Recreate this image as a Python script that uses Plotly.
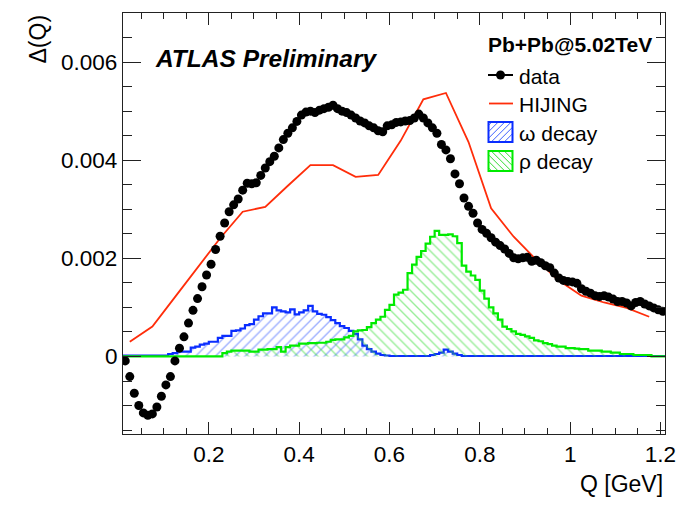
import numpy as np
import plotly.graph_objects as go

# ---- data ----
# data points: bin centres start at 0.015 GeV, step 0.01 GeV
data_q_start = 0.015
data_q_step = 0.01
data_vals = [
    -0.00009, -0.00041, -0.00075, -0.00100, -0.00115, -0.00120, -0.00117, -0.00103, -0.00081, -0.00058,
    -0.00041, -0.00009, 0.00017, 0.00040, 0.00068, 0.00094, 0.00118, 0.00142, 0.00166, 0.00188,
    0.00218, 0.00245, 0.00272, 0.00295, 0.00309, 0.00321, 0.00339, 0.00353, 0.00352, 0.00354,
    0.00369, 0.00384, 0.00397, 0.00408, 0.00425, 0.00442, 0.00455, 0.00466, 0.00479, 0.00492,
    0.00498, 0.00500, 0.00497, 0.00502, 0.00505, 0.00508, 0.00512, 0.00505, 0.00500, 0.00497,
    0.00492, 0.00486, 0.00480, 0.00476, 0.00470, 0.00466, 0.00460, 0.00458, 0.00470, 0.00472,
    0.00477, 0.00478, 0.00480, 0.00481, 0.00486, 0.00494, 0.00486, 0.00476, 0.00466, 0.00455,
    0.00432, 0.00421, 0.00403, 0.00372, 0.00352, 0.00323, 0.00306, 0.00292, 0.00272, 0.00259,
    0.00251, 0.00242, 0.00233, 0.00226, 0.00219, 0.00210, 0.00201, 0.00199, 0.00201, 0.00202,
    0.00194, 0.00196, 0.00191, 0.00185, 0.00181, 0.00170, 0.00160, 0.00155, 0.00153, 0.00152,
    0.00149, 0.00138, 0.00133, 0.00129, 0.00124, 0.00122, 0.00124, 0.00121, 0.00117, 0.00112,
    0.00112, 0.00109, 0.00103, 0.00110, 0.00112, 0.00107, 0.00103, 0.00099, 0.00095, 0.00092,
]

# HIJING curve nodes
hijing_q = [0.025, 0.075, 0.125, 0.175, 0.225, 0.275, 0.325, 0.375, 0.425, 0.475, 0.525, 0.575,
            0.625, 0.675, 0.725, 0.775, 0.825, 0.875, 0.925, 0.975, 1.025, 1.075, 1.125, 1.175]
hijing_vals = [0.00030, 0.00061, 0.00121, 0.00181, 0.00241, 0.00295, 0.00305, 0.00348, 0.00390, 0.00390,
               0.00366, 0.00370, 0.00440, 0.00524, 0.00537, 0.00437, 0.00302, 0.00244, 0.00197, 0.00155,
               0.00124, 0.00110, 0.00099, 0.00081]

# decay histograms: bins of 0.01 GeV starting at 0.01 GeV
hist_lo = 0.01
hist_width = 0.01
omega_vals = [
    0.00002, 0.00002, 0.00002, 0.00002, 0.00002, 0.00002, 0.00002, 0.00002, 0.00002, 0.00002,
    0.00005, 0.00007, 0.00010, 0.00010, 0.00010, 0.00018, 0.00020, 0.00024, 0.00026, 0.00030,
    0.00030, 0.00038, 0.00042, 0.00042, 0.00052, 0.00053, 0.00057, 0.00064, 0.00066, 0.00075,
    0.00082, 0.00088, 0.00088, 0.00100, 0.00094, 0.00092, 0.00090, 0.00096, 0.00086, 0.00090,
    0.00094, 0.00103, 0.00092, 0.00087, 0.00085, 0.00080, 0.00074, 0.00068, 0.00062, 0.00058,
    0.00052, 0.00046, 0.00035, 0.00022, 0.00015, 0.00010, 0.00006, 0.00003, 0.00002, 0.00001,
    0.00001, 0.00001, 0.00001, 0.00001, 0.00001, 0.00001, 0.00001, 0.00001, 0.00003, 0.00005,
    0.00008, 0.00014, 0.00010, 0.00006, 0.00003, 0.00001, 0.00001, 0.00001, 0.00001, 0.00001,
    0.00001, 0.00001, 0.00001, 0.00001, 0.00001, 0.00001, 0.00001, 0.00001, 0.00001, 0.00001,
    0.00001, 0.00001, 0.00001, 0.00001, 0.00001, 0.00001, 0.00001, 0.00001, 0.00001, 0.00001,
    0.00001, 0.00001, 0.00001, 0.00001, 0.00001, 0.00001, 0.00001, 0.00001, 0.00001, 0.00001,
    0.00001, 0.00001, 0.00001, 0.00001, 0.00001, 0.00001, 0.00001, 0.00001, 0.00001, 0.00001,
]
rho_vals = [
    0, 0, 0, 0, 0, 0, 0, 0, 0, 0,
    0, 0, 0, 0, 0, 0, 0, 0, 0, 0,
    0, 0, 0.00007, 0.00010, 0.00012, 0.00012, 0.00012, 0.00012, 0.00010, 0.00010,
    0.00014, 0.00014, 0.00015, 0.00015, 0.00019, 0.00010, 0.00019, 0.00022, 0.00022, 0.00026,
    0.00026, 0.00027, 0.00027, 0.00028, 0.00028, 0.00030, 0.00034, 0.00035, 0.00035, 0.00039,
    0.00042, 0.00051, 0.00053, 0.00054, 0.00060, 0.00068, 0.00075, 0.00081, 0.00095, 0.00105,
    0.00126, 0.00130, 0.00136, 0.00170, 0.00187, 0.00203, 0.00215, 0.00230, 0.00244, 0.00256,
    0.00248, 0.00248, 0.00249, 0.00245, 0.00231, 0.00185, 0.00173, 0.00165, 0.00156, 0.00134,
    0.00118, 0.00100, 0.00088, 0.00075, 0.00061, 0.00056, 0.00051, 0.00046, 0.00044, 0.00041,
    0.00038, 0.00033, 0.00031, 0.00027, 0.00025, 0.00022, 0.00020, 0.00020, 0.00017, 0.00017,
    0.00016, 0.00015, 0.00015, 0.00012, 0.00012, 0.00012, 0.00010, 0.00010, 0.00008, 0.00008,
    0.00005, 0.00005, 0.00005, 0.00003, 0.00003, 0.00003, 0.00003, 0, 0, 0,
]

legend_header = "Pb+Pb@5.02TeV"
legend_labels = ["data", "HIJING", "\u03c9 decay", "\u03c1 decay"]

# ---- layout constants ----
W, H = 695, 508
ML, MR, MT, MB = 123, 30, 13, 74
PW, PH = W - ML - MR, H - MT - MB

FONT = "Liberation Sans, Arial, Helvetica, sans-serif"
BLUE = "rgb(10,45,255)"
GREEN = "rgb(0,235,0)"
RED = "rgb(255,45,10)"
BLUE_H = "rgba(60,95,255,1)"
GREEN_H = "rgba(50,220,50,1)"


def px(xp):
    return (xp - ML) / PW


def py(yp):
    return (H - MB - yp) / PH


data_q = np.round(data_q_start + data_q_step * np.arange(len(data_vals)), 4)


def step_xy(vals):
    edges = np.round(hist_lo + hist_width * np.arange(len(vals) + 1), 4)
    return edges, list(vals) + [vals[-1]]


fig = go.Figure()

ex, ey = step_xy(omega_vals)
fig.add_trace(go.Scatter(
    x=ex, y=ey, mode="lines", line=dict(shape="hv", color=BLUE, width=2.2),
    fill="tozeroy", fillcolor="rgba(0,0,0,0)",
    fillpattern=dict(shape="/", fgcolor=BLUE_H, bgcolor="rgba(0,0,0,0)", size=7, solidity=0.2),
    hoverinfo="skip"))

ex, ey = step_xy(rho_vals)
fig.add_trace(go.Scatter(
    x=ex, y=ey, mode="lines", line=dict(shape="hv", color=GREEN, width=2.2),
    fill="tozeroy", fillcolor="rgba(0,0,0,0)",
    fillpattern=dict(shape="\\", fgcolor=GREEN_H, bgcolor="rgba(0,0,0,0)", size=7, solidity=0.2),
    hoverinfo="skip"))

fig.add_trace(go.Scatter(x=hijing_q, y=hijing_vals, mode="lines",
                         line=dict(color=RED, width=1.8), name="HIJING"))

fig.add_trace(go.Scatter(x=data_q, y=data_vals, mode="markers",
                         marker=dict(color="black", size=9), name="data"))

axis_common = dict(
    showline=True, linecolor="#222", linewidth=1.2, mirror="allticks",
    ticks="inside", tickcolor="#222", tickwidth=1.2, showgrid=False, zeroline=False,
    tickfont=dict(family=FONT, size=22.5, color="black"),
)
fig.update_xaxes(range=[0.01, 1.21], dtick=0.2, tick0=0, ticklen=12,
                 minor=dict(dtick=0.05, tick0=0, ticklen=6, ticks="inside", tickcolor="#222", tickwidth=1.2),
                 **axis_common)
fig.update_yaxes(range=[-0.00158, 0.007], dtick=0.002, tick0=0, ticklen=18,
                 minor=dict(dtick=0.0005, tick0=0, ticklen=9, ticks="inside", tickcolor="#222", tickwidth=1.2),
                 **axis_common)

# ---- hand-drawn ROOT-style legend (glyphs in paper coordinates) ----
shapes = []
annotations = []

GX0, GX1 = 488, 513     # glyph horizontal extent (px)
TX = 517                # label left edge (px)
row_y = [75, 103.5, 132, 161]

annotations.append(dict(text="<b>%s</b>" % legend_header, xref="paper", yref="paper",
                        x=px(486), y=py(44), xanchor="left", yanchor="middle", showarrow=False,
                        font=dict(family=FONT, size=21, color="black")))
for lab, yy in zip(legend_labels, row_y):
    annotations.append(dict(text=lab, xref="paper", yref="paper", x=px(TX), y=py(yy + 1),
                            xanchor="left", yanchor="middle", showarrow=False,
                            font=dict(family=FONT, size=21, color="black")))

# data glyph: line + dot
shapes.append(dict(type="line", xref="paper", yref="paper", x0=px(GX0), x1=px(GX1),
                   y0=py(row_y[0]), y1=py(row_y[0]), line=dict(color="black", width=2)))
cx, r = (GX0 + GX1) / 2, 4.5
shapes.append(dict(type="circle", xref="paper", yref="paper", x0=px(cx - r), x1=px(cx + r),
                   y0=py(row_y[0] + r), y1=py(row_y[0] - r), fillcolor="black",
                   line=dict(color="black", width=0)))
# HIJING glyph
shapes.append(dict(type="line", xref="paper", yref="paper", x0=px(GX0 + 1), x1=px(GX1),
                   y0=py(row_y[1]), y1=py(row_y[1]), line=dict(color=RED, width=1.8)))


def hatched_box(yc, col, hcol, forward):
    x0, x1 = GX0 + 0.5, GX1 - 0.5
    y0, y1 = yc - 10, yc + 10
    out = []
    spacing = 6.5
    if forward:  # "/" : x + y = c (pixel y downward)
        cmin, cmax = x0 + y0, x1 + y1
    else:        # "\" : x - y = c
        cmin, cmax = x0 - y1, x1 - y0
    c = cmin + spacing / 2
    while c < cmax:
        pts = []
        for xx in (x0, x1):
            yy = (c - xx) if forward else (xx - c)
            if y0 <= yy <= y1:
                pts.append((xx, yy))
        for yy in (y0, y1):
            xx = (c - yy) if forward else (c + yy)
            if x0 <= xx <= x1:
                pts.append((xx, yy))
        if len(pts) >= 2:
            (ax, ay), (bx, by) = pts[0], pts[1]
            out.append(dict(type="line", xref="paper", yref="paper", x0=px(ax), y0=py(ay),
                            x1=px(bx), y1=py(by), line=dict(color=hcol, width=1)))
        c += spacing
    out.append(dict(type="rect", xref="paper", yref="paper", x0=px(x0), x1=px(x1),
                    y0=py(y1), y1=py(y0), line=dict(color=col, width=2),
                    fillcolor="rgba(0,0,0,0)"))
    return out


shapes += hatched_box(row_y[2], BLUE, BLUE_H, True)
shapes += hatched_box(row_y[3], GREEN, GREEN_H, False)

annotations += [
    dict(text="<b><i>ATLAS Preliminary</i></b>", xref="paper", yref="paper",
         x=px(153), y=py(58), xanchor="left", yanchor="middle", showarrow=False,
         font=dict(family=FONT, size=24.5, color="black")),
    dict(text="\u0394(Q)", xref="paper", yref="paper", x=px(37), y=1.0,
         xanchor="center", yanchor="top", textangle=-90, showarrow=False,
         font=dict(family=FONT, size=23, color="black")),
    dict(text="Q [GeV]", xref="paper", yref="paper", x=1.0, y=py(484),
         xanchor="right", yanchor="middle", showarrow=False,
         font=dict(family=FONT, size=23, color="black")),
]

fig.update_layout(
    width=W, height=H,
    margin=dict(l=ML, r=MR, t=MT, b=MB),
    paper_bgcolor="white", plot_bgcolor="white",
    font=dict(family=FONT, color="black"),
    showlegend=False,
    shapes=shapes,
    annotations=annotations,
)

fig.write_html("out.html")
